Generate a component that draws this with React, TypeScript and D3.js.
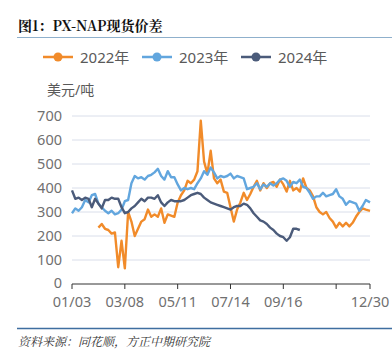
import * as d3 from 'd3';
import React from 'react';

// sample dates (every 4 days), MM/DD
const dates = [
  '01/03', '01/07', '01/11', '01/15', '01/19', '01/23', '01/27', '01/31',
  '02/04', '02/08', '02/12', '02/16', '02/20', '02/24', '02/28',
  '03/04', '03/08', '03/12', '03/16', '03/20', '03/24', '03/28',
  '04/01', '04/05', '04/09', '04/13', '04/17', '04/21', '04/25', '04/29',
  '05/03', '05/07', '05/11', '05/15', '05/19', '05/23', '05/27', '05/31',
  '06/04', '06/08', '06/12', '06/16', '06/20', '06/24', '06/28',
  '07/02', '07/06', '07/10', '07/14', '07/18', '07/22', '07/26', '07/30',
  '08/03', '08/07', '08/11', '08/15', '08/19', '08/23', '08/27', '08/31',
  '09/04', '09/08', '09/12', '09/16', '09/20', '09/24', '09/28',
  '10/02', '10/06', '10/10', '10/14', '10/18', '10/22', '10/26', '10/30',
  '11/03', '11/07', '11/11', '11/15', '11/19', '11/23', '11/27',
  '12/01', '12/05', '12/09', '12/13', '12/17', '12/21', '12/25', '12/30',
];

const s2022 = [
  null, null, null, null, null, null, null, null,
  235, 250, 230, 225, 210, 215, 70,
  180, 65, 300, 260, 200, 230, 260,
  270, 310, 280, 290, 280, 315, 255, 290,
  285, 280, 340, 370, 390, 430, 420, 435,
  470, 680, 510, 460, 555, 440, 420,
  435, 385, 380, 320, 260, 310, 340, 380,
  350, 375, 405, 430, 390, 420, 400, 420,
  425, 405, 435, 415, 385, 430, 390,
  400, 385, 440, 400, 390, 365, 320, 300,
  290, 300, 275, 260, 235, 255, 240,
  255, 240, 255, 280, 300, 315, 310, 305,
];

const s2023 = [
  295, 315, 305, 320, 350, 340, 370, 375,
  335, 320, 305, 295, 305, 290, 295,
  310, 345, 350, 420, 450, 440, 445,
  435, 450, 455, 465, 480, 450, 435, 470,
  445, 445, 415, 390, 400, 395, 400, 395,
  420, 440, 470, 455, 485, 465, 440,
  450, 445, 450, 460, 440, 450, 445, 440,
  395, 400, 405, 420, 395, 415, 405, 420,
  410, 420, 435, 440, 430, 405, 425,
  420, 435, 405, 400, 380, 355, 365, 365,
  380, 365, 370, 375, 395, 365, 355,
  330, 345, 340, 335, 305, 325, 350, 340,
];

const s2024 = [
  390, 355, 360, 350, 360, 355, 320, 355,
  335, 315, 350, 350, 360, 355, 355,
  320, 295, 300, 315, 325, 340, 355,
  345, 360, 360, 355, 370, 340, 325, 340,
  350, 345, 345, 345, 350, 360, 370, 375,
  380, 375, 360, 350, 340, 335, 330,
  325, 320, 315, 310, 320, 325, 325, 335,
  330, 315, 295, 280, 265, 260, 250, 235,
  225, 210, 200, 195, 180, 195, 230,
  230, 225,
];

const seriesNames = ['2022年', '2023年', '2024年'];
const seriesColors = ['#f18b2a', '#62a6de', '#4b5b7a'];
const yTicks = [0, 100, 200, 300, 400, 500, 600, 700];
const xTickLabels = ['01/03', '03/08', '05/11', '07/14', '09/16', '11/19', '12/30'];
const xTickShown = ['01/03', '03/08', '05/11', '07/14', '09/16', '', '12/30'];

const parse = d3.timeParse('%Y/%m/%d');
const toDate = (s: string) => parse('2023/' + s) as Date;

export default function App() {
  const width = 392;
  const height = 353;
  const left = 72;
  const right = 370;
  const top = 116;
  const bottom = 284;

  const x = d3.scaleTime().domain([toDate('01/03'), toDate('12/30')]).range([left, right]);
  const y = d3.scaleLinear().domain([0, 700]).range([bottom, top]);

  const all = [s2022, s2023, s2024];
  const line = d3.line<[Date, number | null]>()
    .defined(d => d[1] != null)
    .x(d => x(d[0]))
    .y(d => y(d[1] as number));

  const legendX = [43, 142, 241];
  const font = '"Noto Sans", "Noto Sans CJK SC", sans-serif';

  return (
    <svg width={width} height={height} style={{ position: 'absolute', left: 0, top: 0, background: '#fff' }}>
      <text x={18} y={31} fontFamily='"Noto Serif CJK SC", "Noto Sans CJK SC", serif' fontWeight="bold" fontSize={14} fill="#111">
        图1：PX-NAP现货价差
      </text>
      <line x1={17} x2={392} y1={37.5} y2={37.5} stroke="#8fb0cc" strokeWidth={1.2} />

      {seriesNames.map((name, i) => (
        <g key={name} transform={`translate(${legendX[i]},57)`}>
          <line x1={0} x2={30} y1={0} y2={0} stroke={seriesColors[i]} strokeWidth={2.5} />
          <circle cx={15} cy={0} r={4.5} fill={seriesColors[i]} />
          <text x={37} y={5.5} fontFamily={font} fontSize={15} fill="#595959">{name}</text>
        </g>
      ))}

      <text x={47} y={95} fontFamily={font} fontSize={14} fill="#595959">美元/吨</text>

      {yTicks.map(t => (
        <g key={t}>
          {t > 0 && <line x1={left} x2={right} y1={y(t)} y2={y(t)} stroke="#d9deea" strokeWidth={1} />}
          <text x={62} y={y(t) + (t === 0 ? 3.5 : 5)} textAnchor="end" fontFamily={font} fontSize={14.5} fill="#707070">{t}</text>
        </g>
      ))}

      <line x1={left} x2={right} y1={bottom} y2={bottom} stroke="#333" strokeWidth={1} />
      {xTickLabels.map((lab, i) => (
        <g key={lab} transform={`translate(${x(toDate(lab))},${bottom})`}>
          <line y1={0} y2={5} stroke="#333" />
          <text y={23} textAnchor="middle" fontFamily={font} fontSize={14.5} fill="#707070">{xTickShown[i]}</text>
        </g>
      ))}

      {all.map((s, i) => (
        <path
          key={i}
          d={line(dates.map((d, j) => [toDate(d), j < s.length ? s[j] : null])) || ''}
          fill="none"
          stroke={seriesColors[i]}
          strokeWidth={2.4}
          strokeLinejoin="round"
        />
      ))}

      <line x1={17} x2={392} y1={328.5} y2={328.5} stroke="#3f6ea0" strokeWidth={1.5} />
      <text x={18} y={346} fontFamily='"Noto Serif CJK SC", "Noto Sans CJK SC", serif' fontStyle="italic" fontSize={12} fill="#333">
        资料来源：同花顺，方正中期研究院
      </text>
    </svg>
  );
}
